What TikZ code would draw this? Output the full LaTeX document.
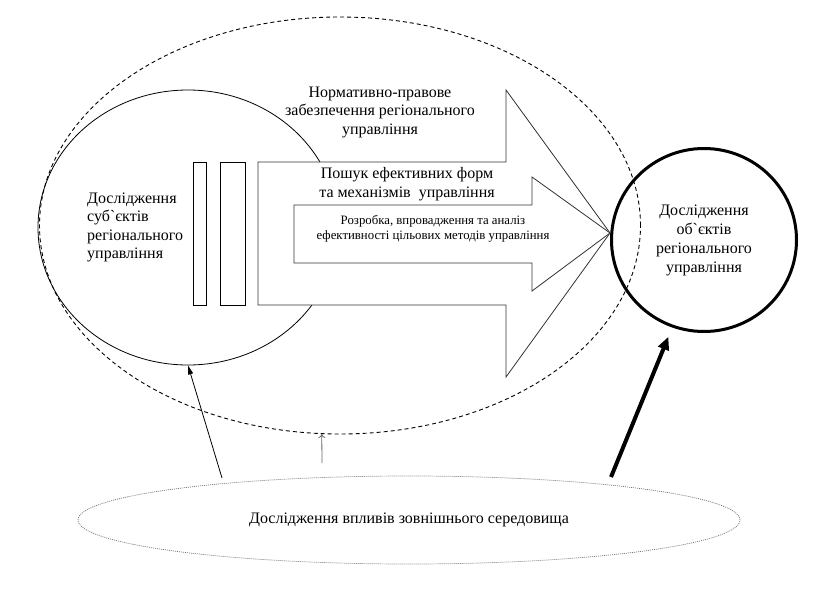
\documentclass[tikz,border=0pt]{standalone}
\usepackage{fontspec}
\setmainfont{Liberation Serif}
\newfontfamily\dgserif{Liberation Serif}
\usetikzlibrary{shapes.geometric,arrows.meta}
\begin{document}
\begin{tikzpicture}[x=1pt,y=-1pt,
  every node/.style={font=\dgserif},
  bigtxt/.style={font=\dgserif\fontsize{16}{18.5}\selectfont},
  smalltxt/.style={font=\dgserif\fontsize{12.8}{15}\selectfont},
  lbl/.style={inner sep=0pt, align=center},
  thinline/.style={line width=0.8pt},
  outerdash/.style={draw, ellipse, line width=0.9pt, dash pattern=on 4pt off 3pt, inner sep=0pt},
  subjcircle/.style={draw, ellipse, thinline, inner sep=0pt},
  bar/.style={draw, thinline, fill=white, inner sep=0pt, minimum height=143pt},
  bigarrow/.style={draw=black!80, thinline, fill=white},
  objcircle/.style={draw, ellipse, line width=3pt, inner sep=0pt, align=center,
     font=\dgserif\fontsize{16}{19}\selectfont},
  envellipse/.style={draw=black!55, ellipse, line width=0.7pt, dash pattern=on 1pt off 1pt,
     inner sep=0pt, font=\dgserif\fontsize{16}{18.5}\selectfont}
]
\useasboundingbox (0,0) rectangle (821,591);

% outer dashed ellipse
\node[outerdash, minimum width=601pt, minimum height=417pt] (outer) at (340,225.5) {};
% left circle
\node[subjcircle, minimum width=300pt, minimum height=275pt] (subj) at (188,227.5) {};

% big arrow
\draw[bigarrow] (258,162) -- (506,162) -- (506,90) -- (610,233) -- (506,377)
  -- (506,305) -- (258,305) -- cycle;
% inner arrow
\draw[bigarrow] (294,205) -- (532,205) -- (532,177) -- (610,233) -- (532,291)
  -- (532,263) -- (294,263) -- cycle;

% bars
\node[bar, minimum width=13pt] (bar1) at (200,233.5) {};
\node[bar, minimum width=25pt] (bar2) at (232.5,233.5) {};

% texts
\node[bigtxt, anchor=west, inner sep=0pt, align=left] (subjtxt) at (87,227.5)
  {Дослідження\\суб`єктів\\регіонального\\управління};
\node[bigtxt, lbl] (t1) at (380,112) {Нормативно-правове\\забезпечення регіонального\\управління};
\node[bigtxt, lbl] (t2) at (407,184) {Пошук ефективних форм\\та механізмів\ \ управління};
\node[smalltxt, lbl] (t3) at (433,228.5) {Розробка, впровадження та аналіз\\ефективності цільових методів управління};

% right circle
\node[objcircle, minimum width=185pt, minimum height=183pt] (obj) at (704,240)
  {Дослідження\\об`єктів\\регіонального\\управління};

% bottom ellipse
\node[envellipse, minimum width=662pt, minimum height=88pt] (env) at (409,520)
  {Дослідження впливів зовнішнього середовища};

% connectors
\coordinate (s1) at (222,478);
\coordinate (s2) at (322,463);
\coordinate (s3) at (611,477);
\draw[thinline, -{Triangle[length=9pt,width=5pt]}] (s1) -- (subj.south);
\draw[thinline, draw=black!60, -{To[length=4pt,width=7pt]}] (s2) -- (outer.265);
\draw[line width=4pt, shorten >=10pt, -{Triangle[length=13pt,width=11pt]}] (s3) -- (obj.250);
\end{tikzpicture}
\end{document}
